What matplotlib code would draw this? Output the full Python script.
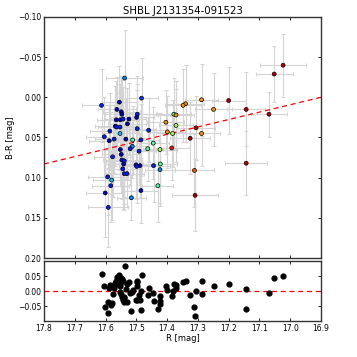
import matplotlib
matplotlib.use("Agg")
import matplotlib.pyplot as plt
import numpy as np

title = "SHBL J2131354-091523"

# R magnitude, B-R colour, errors and colour index (time order) for each point
r_mag = [17.538, 17.613, 17.483, 17.555, 17.563, 17.549, 17.547, 17.565, 17.552, 17.543,
         17.524, 17.497, 17.499, 17.529, 17.568, 17.564, 17.553, 17.586, 17.604, 17.588,
         17.572, 17.553, 17.497, 17.460, 17.534, 17.512, 17.485, 17.577, 17.552, 17.513,
         17.520, 17.549, 17.491, 17.463, 17.445, 17.423, 17.547, 17.539, 17.541, 17.501,
         17.499, 17.488, 17.444, 17.422, 17.423, 17.544, 17.539, 17.530, 17.593, 17.580,
         17.583, 17.601, 17.485, 17.430, 17.516, 17.591, 17.023, 17.052, 17.288, 17.340,
         17.348, 17.200, 17.249, 17.143, 17.069, 17.378, 17.371, 17.404, 17.371, 17.306,
         17.399, 17.382, 17.288, 17.325, 17.385, 17.143, 17.311, 17.309]
b_r = [-0.024, 0.010, 0.001, 0.006, 0.015, 0.018, 0.021, 0.028, 0.028, 0.027,
       0.027, 0.021, 0.025, 0.033, 0.036, 0.037, 0.037, 0.042, 0.049, 0.054,
       0.052, 0.045, 0.039, 0.041, 0.052, 0.053, 0.053, 0.074, 0.065, 0.061,
       0.064, 0.071, 0.067, 0.064, 0.057, 0.065, 0.078, 0.079, 0.083, 0.084,
       0.086, 0.085, 0.085, 0.083, 0.090, 0.089, 0.095, 0.095, 0.099, 0.103,
       0.110, 0.119, 0.116, 0.110, 0.125, 0.137, -0.040, -0.029, 0.003, 0.008,
       0.010, 0.004, 0.015, 0.015, 0.021, 0.021, 0.022, 0.031, 0.035, 0.038,
       0.043, 0.045, 0.045, 0.051, 0.063, 0.082, 0.091, 0.122]
r_err = [0.060, 0.065, 0.055, 0.058, 0.062, 0.060, 0.055, 0.064, 0.058, 0.060,
         0.057, 0.060, 0.055, 0.062, 0.066, 0.060, 0.058, 0.063, 0.060, 0.065,
         0.062, 0.058, 0.060, 0.055, 0.060, 0.050, 0.058, 0.062, 0.060, 0.055,
         0.058, 0.062, 0.055, 0.050, 0.052, 0.055, 0.060, 0.058, 0.062, 0.055,
         0.058, 0.060, 0.052, 0.055, 0.050, 0.062, 0.058, 0.055, 0.065, 0.062,
         0.060, 0.062, 0.055, 0.050, 0.047, 0.065, 0.074, 0.060, 0.055, 0.060,
         0.058, 0.055, 0.060, 0.062, 0.057, 0.055, 0.058, 0.060, 0.055, 0.062,
         0.058, 0.055, 0.060, 0.065, 0.058, 0.068, 0.064, 0.076]
br_err = [0.060, 0.045, 0.050, 0.045, 0.040, 0.045, 0.042, 0.048, 0.045, 0.040,
          0.045, 0.048, 0.042, 0.045, 0.050, 0.042, 0.045, 0.048, 0.050, 0.045,
          0.042, 0.045, 0.048, 0.040, 0.050, 0.042, 0.045, 0.050, 0.045, 0.040,
          0.045, 0.048, 0.042, 0.040, 0.045, 0.045, 0.048, 0.045, 0.050, 0.042,
          0.045, 0.040, 0.045, 0.048, 0.045, 0.050, 0.045, 0.042, 0.048, 0.050,
          0.045, 0.055, 0.040, 0.045, 0.028, 0.049, 0.039, 0.035, 0.045, 0.048,
          0.045, 0.042, 0.045, 0.046, 0.028, 0.045, 0.042, 0.040, 0.045, 0.040,
          0.045, 0.042, 0.040, 0.045, 0.040, 0.040, 0.045, 0.045]
c_val = [0.26, 0.16, 0.18, 0.06, 0.06, 0.06, 0.06, 0.06, 0.06, 0.15,
         0.06, 0.16, 0.06, 0.06, 0.06, 0.15, 0.16, 0.15, 0.16, 0.06,
         0.15, 0.32, 0.16, 0.16, 0.06, 0.45, 0.16, 0.16, 0.06, 0.26,
         0.15, 0.06, 0.16, 0.45, 0.45, 0.55, 0.15, 0.16, 0.06, 0.16,
         0.15, 0.06, 0.16, 0.45, 0.26, 0.15, 0.16, 0.15, 0.16, 0.32,
         0.15, 0.06, 0.06, 0.45, 0.26, 0.16, 0.95, 0.95, 0.76, 0.76,
         0.76, 0.95, 0.76, 0.95, 0.95, 0.45, 0.76, 0.76, 0.55, 0.95,
         0.76, 0.55, 0.76, 0.95, 0.88, 0.95, 0.82, 0.95]

# linear fit B-R = slope * (R - r0)
fit_slope = 0.0922
fit_r0 = 16.9

r_mag = np.array(r_mag)
b_r = np.array(b_r)
model = fit_slope * (r_mag - fit_r0)
resid = model - b_r

fig = plt.figure(figsize=(3.57, 3.57), dpi=100)
ax1 = fig.add_axes([0.1232, 0.2773, 0.7759, 0.6751])
ax2 = fig.add_axes([0.1232, 0.1008, 0.7759, 0.1681])

ax1.errorbar(r_mag, b_r, xerr=r_err, yerr=br_err, fmt="none", ecolor="#d4d4d4",
             elinewidth=0.8, capsize=1.5, capthick=0.8, zorder=1)
ax1.scatter(r_mag, b_r, c=c_val, cmap="jet", vmin=0, vmax=1, s=8,
            edgecolors="k", linewidths=0.5, zorder=3)
xl = np.array([17.8, 16.9])
ax1.plot(xl, fit_slope * (xl - fit_r0), color="r", linestyle="--", dashes=(4, 3),
         linewidth=0.9, zorder=2)
ax1.set_xlim(17.8, 16.9)
ax1.set_ylim(0.20, -0.10)
ax1.set_yticks([-0.10, -0.05, 0.00, 0.05, 0.10, 0.15, 0.20])
ax1.set_yticklabels(["\u22120.10", "\u22120.05", "0.00", "0.05", "0.10", "0.15", "0.20"])
ax1.set_xticks(np.arange(16.9, 17.85, 0.1))
ax1.set_xticklabels([])
ax1.set_ylabel("B-R [mag]", fontsize=6, labelpad=2)
ax1.set_title(title, fontsize=7.3, pad=2)

ax2.scatter(r_mag, resid, color="k", s=12, zorder=3)
ax2.axhline(0, color="r", linestyle="--", dashes=(4, 3), linewidth=0.9)
ax2.set_xlim(17.8, 16.9)
ax2.set_ylim(-0.1, 0.1)
ax2.set_yticks([-0.05, 0.00, 0.05])
ax2.set_yticklabels(["\u22120.05", "0.00", "0.05"])
ax2.set_xticks([17.8, 17.7, 17.6, 17.5, 17.4, 17.3, 17.2, 17.1, 17.0, 16.9])
ax2.set_xticklabels(["17.8", "17.7", "17.6", "17.5", "17.4", "17.3", "17.2", "17.1", "17.0", "16.9"])
ax2.set_xlabel("R [mag]", fontsize=6, labelpad=1)

for ax in (ax1, ax2):
    ax.tick_params(direction="in", top=True, right=True, labelsize=5.5,
                   length=2.5, width=0.6, pad=2)
    for s in ax.spines.values():
        s.set_linewidth(1.0)
        s.set_color("#333333")

fig.savefig("out.png", dpi=100)
